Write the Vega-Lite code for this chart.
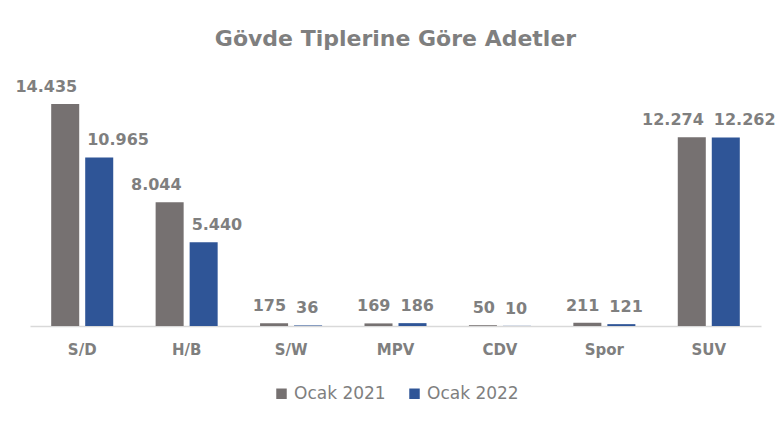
{
  "$schema": "https://vega.github.io/schema/vega-lite/v6.json",
  "width": 731,
  "height": 246,
  "autosize": {"type": "none"},
  "padding": {"left": 30, "top": 80, "right": 14, "bottom": 97},
  "background": "white",
  "config": {
    "view": {"stroke": null},
    "locale": {"number": {"decimal": ",", "thousands": ".", "grouping": [3], "currency": ["", " ₺"]}}
  },
  "title": {
    "text": "Gövde Tiplerine Göre Adetler",
    "font": "DejaVu Sans",
    "fontSize": 22,
    "fontWeight": "bold",
    "color": "#7f7f7f",
    "anchor": "middle",
    "offset": 28
  },
  "data": {
    "values": [
      {"tip": "S/D", "donem": "Ocak 2021", "adet": 14435},
      {"tip": "S/D", "donem": "Ocak 2022", "adet": 10965},
      {"tip": "H/B", "donem": "Ocak 2021", "adet": 8044},
      {"tip": "H/B", "donem": "Ocak 2022", "adet": 5440},
      {"tip": "S/W", "donem": "Ocak 2021", "adet": 175},
      {"tip": "S/W", "donem": "Ocak 2022", "adet": 36},
      {"tip": "MPV", "donem": "Ocak 2021", "adet": 169},
      {"tip": "MPV", "donem": "Ocak 2022", "adet": 186},
      {"tip": "CDV", "donem": "Ocak 2021", "adet": 50},
      {"tip": "CDV", "donem": "Ocak 2022", "adet": 10},
      {"tip": "Spor", "donem": "Ocak 2021", "adet": 211},
      {"tip": "Spor", "donem": "Ocak 2022", "adet": 121},
      {"tip": "SUV", "donem": "Ocak 2021", "adet": 12274},
      {"tip": "SUV", "donem": "Ocak 2022", "adet": 12262}
    ]
  },
  "encoding": {
    "x": {
      "field": "tip",
      "type": "nominal",
      "sort": ["S/D", "H/B", "S/W", "MPV", "CDV", "Spor", "SUV"],
      "scale": {"paddingInner": 0.406, "paddingOuter": 0.203},
      "axis": {
        "title": null,
        "labelAngle": 0,
        "labelFont": "DejaVu Sans",
        "labelFontSize": 15,
        "labelFontWeight": "bold",
        "labelColor": "#7f7f7f",
        "labelPadding": 16,
        "ticks": false,
        "domainColor": "#d9d9d9",
        "domainWidth": 1.5
      }
    },
    "xOffset": {
      "field": "donem",
      "type": "nominal",
      "scale": {"paddingInner": 0.176, "paddingOuter": 0}
    },
    "y": {
      "field": "adet",
      "type": "quantitative",
      "scale": {"domain": [0, 16000]},
      "axis": null
    }
  },
  "layer": [
    {
      "mark": {"type": "bar"},
      "encoding": {
        "color": {
          "field": "donem",
          "type": "nominal",
          "scale": {"domain": ["Ocak 2021", "Ocak 2022"], "range": ["#767171", "#2f5597"]},
          "legend": {
            "title": null,
            "orient": "none",
            "legendX": 243,
            "legendY": 305,
            "direction": "horizontal",
            "symbolType": "square",
            "symbolSize": 110,
            "symbolStrokeWidth": 0,
            "labelFont": "DejaVu Sans",
            "labelFontSize": 17,
            "labelColor": "#7f7f7f",
            "columnPadding": 20
          }
        }
      }
    },
    {
      "transform": [{"filter": "datum.donem === 'Ocak 2021'"}],
      "mark": {
        "type": "text",
        "baseline": "alphabetic",
        "align": "right",
        "dx": 12,
        "dy": -12,
        "font": "DejaVu Sans",
        "fontSize": 16,
        "fontWeight": "bold",
        "color": "#7f7f7f"
      },
      "encoding": {
        "text": {"field": "adet", "type": "quantitative", "format": ",d"}
      }
    },
    {
      "transform": [{"filter": "datum.donem === 'Ocak 2022'"}],
      "mark": {
        "type": "text",
        "baseline": "alphabetic",
        "align": "left",
        "dx": -12,
        "dy": -12,
        "font": "DejaVu Sans",
        "fontSize": 16,
        "fontWeight": "bold",
        "color": "#7f7f7f"
      },
      "encoding": {
        "text": {"field": "adet", "type": "quantitative", "format": ",d"}
      }
    }
  ]
}
